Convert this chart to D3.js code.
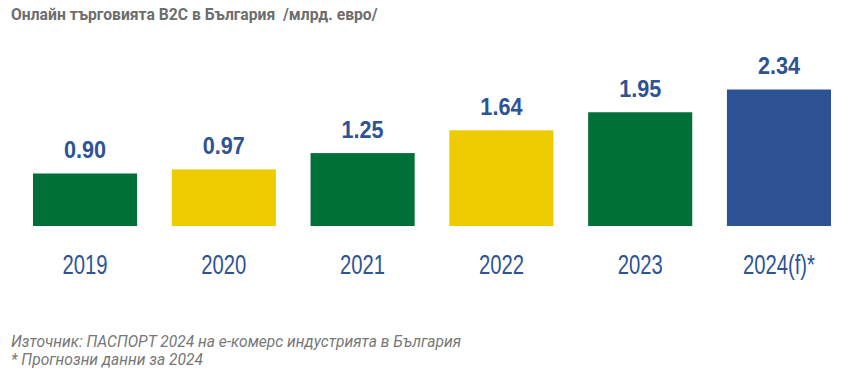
<!DOCTYPE html>
<html><head><meta charset="utf-8">
<script src="https://cdn.jsdelivr.net/npm/d3@7"></script>
<style>
body{margin:0;background:#fff;}
svg{display:block;}
</style></head>
<body><svg id="c" width="850" height="374"></svg>
<script>
const categories = ["2019","2020","2021","2022","2023","2024(f)*"];
const values = [0.90, 0.97, 1.25, 1.64, 1.95, 2.34];
const valueLabels = ["0.90","0.97","1.25","1.64","1.95","2.34"];
const barColors = ["#006f38","#eecb00","#006f38","#eecb00","#006f38","#2d5395"];
const title = "Онлайн търговията B2C в България  /млрд. евро/";
const notes = ["Източник: ПАСПОРТ 2024 на е-комерс индустрията в България", "* Прогнозни данни за 2024"];

const svg = d3.select("#c");
const x = d3.scaleBand().domain(categories).range([33, 831]).paddingInner(0.25).paddingOuter(0);
const y = d3.scaleLinear().domain([0, 2.34]).range([226, 89.5]);

const narrow = "'Liberation Sans', Arial, sans-serif";

const t = svg.append("text").attr("x", 11).attr("y", 20)
  .attr("font-family", "Roboto, sans-serif").attr("font-weight", "bold")
  .attr("font-size", 15.7).attr("fill", "#6d6d6d")
  .style("white-space","pre").text(title);

const g = svg.append("g");
g.selectAll("rect").data(values).join("rect")
  .attr("x", (d,i) => x(categories[i]))
  .attr("width", x.bandwidth())
  .attr("y", d => y(d))
  .attr("height", d => y(0) - y(d))
  .attr("fill", (d,i) => barColors[i]);

g.selectAll("text.v").data(values).join("text").attr("class","v")
  .attr("transform", (d,i) => `translate(${x(categories[i]) + x.bandwidth()/2},${y(d) - 15.5}) scale(0.9,1)`)
  .attr("text-anchor","middle")
  .attr("font-family", narrow).attr("font-weight","bold")
  .attr("font-size", 24).attr("fill", "#2d5395")
  .text((d,i) => valueLabels[i]);

const axis = d3.axisBottom(x).tickSize(0).tickPadding(0);
const ag = svg.append("g").attr("transform", "translate(0,274)").call(axis);
ag.select(".domain").remove();
ag.selectAll("text").attr("dy", 0).attr("y", 0)
  .attr("transform", "scale(0.75,1)")
  .attr("font-family", narrow).attr("font-size", 27).attr("fill", "#2d5395");

svg.selectAll("text.n").data(notes).join("text").attr("class","n")
  .attr("x", 11).attr("y", (d,i) => 346.5 + i*18.5)
  .attr("font-family","Roboto, sans-serif").attr("font-style","italic")
  .attr("font-size", 15.6).attr("fill", "#777")
  .text(d => d);
</script></body></html>
